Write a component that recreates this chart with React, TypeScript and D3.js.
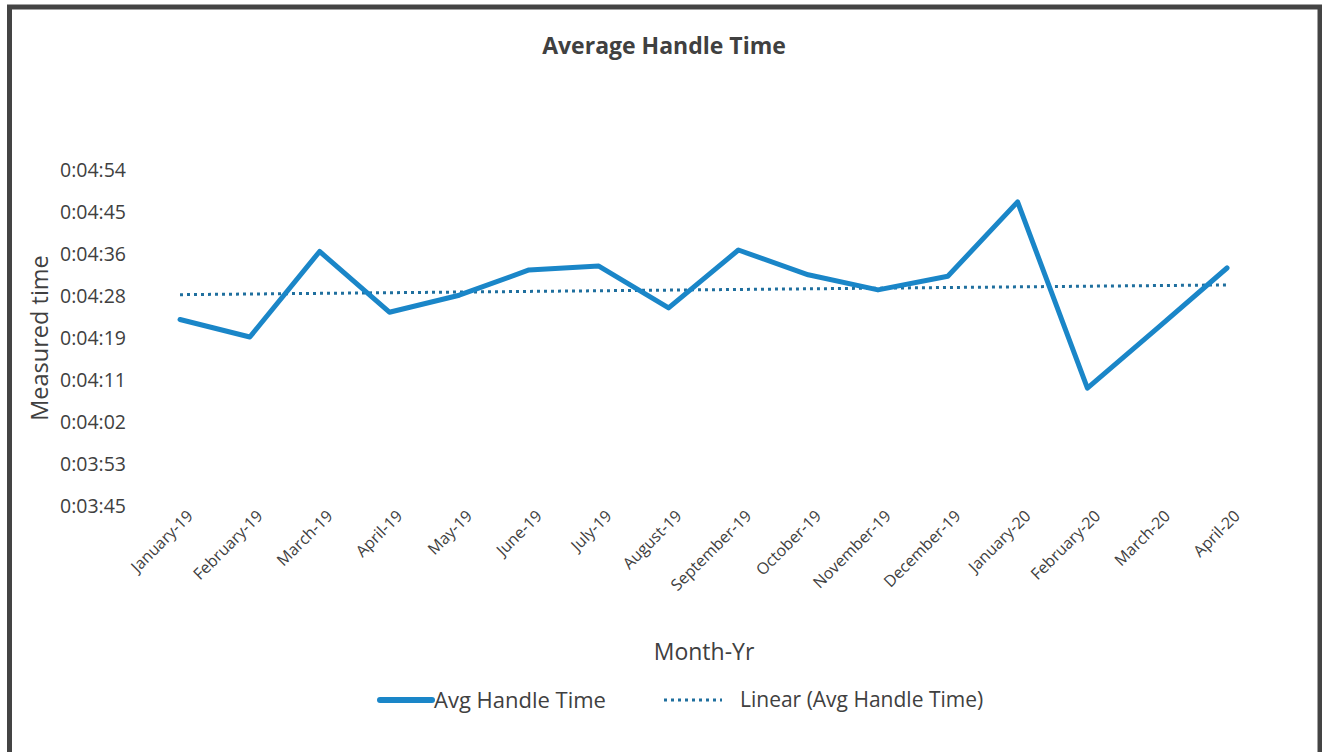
import React from "react";
import * as d3 from "d3";

// Monthly average handle time, in seconds
const months = [
  "January-19", "February-19", "March-19", "April-19", "May-19", "June-19",
  "July-19", "August-19", "September-19", "October-19", "November-19",
  "December-19", "January-20", "February-20", "March-20", "April-20",
];
const avgHandleSeconds = [
  263, 259.4, 277, 264.5, 268, 273.2, 274, 265.4,
  277.3, 272.2, 269.1, 271.9, 287.2, 248.9, 261.2, 273.6,
];
// Axis ticks expressed as fractions of a day (spreadsheet time format)
const yTickDays = [0.0026, 0.0027, 0.0028, 0.0029, 0.003, 0.0031, 0.0032, 0.0033, 0.0034];

const W = 1322;
const H = 752;
const FONT = "'Open Sans', 'Noto Sans', sans-serif";
const TEXT = "#404040";
const LINE = "#1a86c8";
const TREND = "#1f6f9e";

const fmtTime = (sec: number) => {
  const s = Math.round(sec);
  const h = Math.floor(s / 3600);
  const m = Math.floor((s % 3600) / 60);
  const r = s % 60;
  return `${h}:${String(m).padStart(2, "0")}:${String(r).padStart(2, "0")}`;
};

export default function App() {
  const x = d3.scalePoint<string>().domain(months).range([180, 1227]);
  const yTicks = yTickDays.map((d) => d * 86400);
  const y = d3
    .scaleLinear()
    .domain([yTicks[0], yTicks[yTicks.length - 1]])
    .range([506, 170]);

  const pts = months.map((m, i) => [x(m) as number, avgHandleSeconds[i]] as [number, number]);
  const line = d3
    .line<[number, number]>()
    .x((d) => d[0])
    .y((d) => y(d[1]));

  // Least-squares linear trend over the month index
  const n = avgHandleSeconds.length;
  const idx = d3.range(n);
  const mi = d3.mean(idx) as number;
  const mv = d3.mean(avgHandleSeconds) as number;
  const slope =
    d3.sum(idx, (i) => (i - mi) * (avgHandleSeconds[i] - mv)) /
    d3.sum(idx, (i) => (i - mi) * (i - mi));
  const trendAt = (i: number) => mv + slope * (i - mi);
  const trend: [number, number][] = [
    [x(months[0]) as number, trendAt(0)],
    [x(months[n - 1]) as number, trendAt(n - 1)],
  ];

  return (
    <svg
      width={W}
      height={H}
      style={{ position: "absolute", left: 0, top: 0, background: "#fff" }}
      fontFamily={FONT}
    >
      <rect x={0} y={0} width={W} height={H} fill="#fff" />
      <rect x={9.5} y={7} width={1310.5} height={780} fill="none" stroke="#444" strokeWidth={5} />

      <text x={664} y={54} textAnchor="middle" fontSize={23} fontWeight={700} fill={TEXT}>
        Average Handle Time
      </text>

      {yTicks.map((t, i) => (
        <text key={i} x={126} y={y(t)} dy="0.35em" textAnchor="end" fontSize={19.5} fill={TEXT}>
          {fmtTime(t)}
        </text>
      ))}

      <text
        transform={`translate(48,338) rotate(-90)`}
        textAnchor="middle"
        fontSize={23.5}
        fill={TEXT}
      >
        Measured time
      </text>

      {months.map((m) => (
        <text
          key={m}
          transform={`translate(${(x(m) as number) + 14},${517}) rotate(-45)`}
          textAnchor="end"
          fontSize={16}
          fill={TEXT}
        >
          {m}
        </text>
      ))}

      <text x={704} y={660} textAnchor="middle" fontSize={23} fill={TEXT}>
        Month-Yr
      </text>

      <path
        d={line(trend) as string}
        fill="none"
        stroke={TREND}
        strokeWidth={3}
        strokeDasharray="3 4"
      />
      <path
        d={line(pts) as string}
        fill="none"
        stroke={LINE}
        strokeWidth={5}
        strokeLinejoin="round"
        strokeLinecap="round"
      />

      <g>
        <line x1={380} x2={432} y1={700} y2={700} stroke={LINE} strokeWidth={6} strokeLinecap="round" />
        <text x={434} y={700} dy="0.35em" fontSize={22} fill={TEXT}>
          Avg Handle Time
        </text>
        <line x1={664} x2={722} y1={700} y2={700} stroke={TREND} strokeWidth={3} strokeDasharray="3 4" />
        <text x={740} y={700} dy="0.35em" fontSize={21} fill={TEXT}>
          Linear (Avg Handle Time)
        </text>
      </g>
    </svg>
  );
}
